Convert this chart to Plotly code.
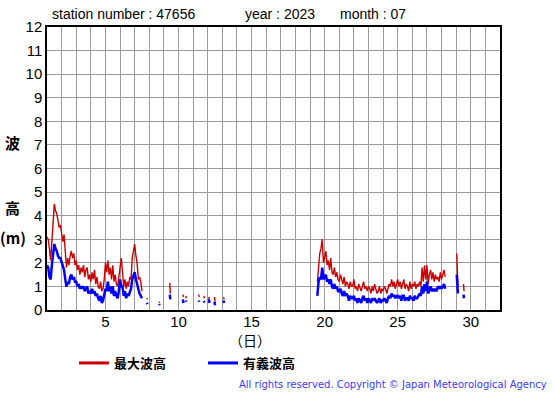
import plotly.graph_objects as go

# ---------------- data (wave heights, m) ----------------
STEP = 1.0 / 12.0  # 2-hourly samples, in days

# section A : July 1 00h .. July 7 12h
secA_start = 1.0
secA_max = [3.1, 3.0, 2.6, 2.1, 2.9, 3.8, 4.5, 4.2, 4.1, 3.8, 3.5, 3.6,
            3.3, 2.9, 3.2, 2.4, 1.8, 2.2, 1.9, 2.3, 2.5, 2.2, 2.4, 1.9,
            2.1, 1.7, 1.9, 1.5, 1.8, 1.6, 1.9, 1.4, 1.7, 1.8, 1.3, 1.5,
            1.2, 1.6, 1.3, 1.7, 1.1, 1.4, 1.0, 0.9, 1.2, 0.8, 0.9, 1.3,
            2.0, 1.6, 2.1, 1.5, 1.8, 1.3, 1.9, 1.2, 1.5, 1.1, 1.0, 1.4,
            1.8, 2.2, 1.6, 1.0, 1.3, 0.9, 1.2, 1.0, 1.4, 1.3, 2.2, 2.5,
            2.8, 2.3, 2.0, 1.3, 1.4, 1.2, 0.8]
secA_sig = [1.9, 1.8, 1.4, 1.3, 1.9, 2.4, 2.8, 2.6, 2.5, 2.3, 2.2, 2.2,
            2.0, 1.8, 1.7, 1.3, 1.0, 1.2, 1.1, 1.4, 1.5, 1.3, 1.4, 1.2,
            1.2, 1.0, 1.1, 0.9, 1.0, 0.9, 1.0, 0.8, 0.9, 1.0, 0.7, 0.8,
            0.7, 0.9, 0.7, 0.8, 0.6, 0.7, 0.5, 0.4, 0.6, 0.3, 0.4, 0.6,
            0.9, 0.8, 1.2, 0.8, 1.0, 0.7, 1.0, 0.6, 0.8, 0.6, 0.5, 0.8,
            1.3, 1.0, 1.0, 0.6, 0.8, 0.5, 0.7, 0.6, 0.8, 0.9, 1.3, 1.5,
            1.6, 1.3, 1.1, 0.8, 0.7, 0.6, 0.5]

# section B : July 19 12h .. July 28 06h
secB_start = 19.5
secB_max = [1.2, 2.0, 2.4, 2.6, 3.0, 2.0, 2.3, 2.5, 1.9, 2.1, 1.7, 2.2,
            1.6, 1.5, 1.8, 1.4, 1.6, 1.3, 1.2, 1.5, 1.3, 1.1, 1.4, 1.0,
            1.2, 1.1, 0.9, 1.2, 1.0, 1.0, 1.3, 0.9, 1.0, 0.8, 1.1, 0.9,
            0.8, 1.0, 1.2, 0.9, 1.0, 0.8, 1.0, 0.9, 0.7, 1.0, 0.8, 1.1,
            0.9, 0.7, 0.8, 1.0, 0.7, 0.9, 0.8, 1.0, 0.9, 0.7, 0.9, 1.1,
            1.0, 1.3, 1.0, 1.2, 0.9, 1.1, 1.3, 1.0, 1.2, 0.9, 1.1, 1.3,
            0.9, 1.1, 1.0, 0.8, 1.2, 0.9, 1.1, 1.0, 1.2, 0.9, 1.1, 1.0,
            1.2, 1.0, 1.8, 1.2, 1.9, 1.3, 1.9, 1.1, 1.5, 1.7, 1.3, 1.6,
            1.2, 1.5, 1.3, 1.4, 1.2, 1.6, 1.3, 1.5, 1.7, 1.4]
secB_sig = [0.6, 1.2, 1.4, 1.3, 1.8, 1.3, 1.4, 1.5, 1.2, 1.3, 1.1, 1.3,
            1.0, 0.9, 1.1, 0.9, 1.0, 0.8, 0.8, 0.9, 0.7, 0.6, 0.8, 0.6,
            0.7, 0.6, 0.4, 0.6, 0.5, 0.5, 0.6, 0.4, 0.5, 0.3, 0.5, 0.4,
            0.3, 0.5, 0.6, 0.4, 0.5, 0.3, 0.5, 0.4, 0.3, 0.5, 0.4, 0.5,
            0.4, 0.3, 0.4, 0.5, 0.3, 0.4, 0.4, 0.5, 0.4, 0.3, 0.5, 0.6,
            0.5, 0.7, 0.6, 0.6, 0.5, 0.6, 0.6, 0.5, 0.6, 0.4, 0.6, 0.6,
            0.4, 0.5, 0.5, 0.4, 0.6, 0.5, 0.5, 0.4, 0.6, 0.5, 0.5, 0.6,
            0.7, 0.6, 1.0, 0.7, 1.1, 0.8, 1.2, 0.7, 0.9, 1.0, 0.8, 0.9,
            0.8, 0.9, 0.8, 1.0, 0.9, 1.0, 0.9, 1.0, 1.1, 0.9]

# sparse observations (day, value); points sharing a group id are joined
sparse_day = [7.83, 7.875, 8.67, 8.71, 9.40, 9.44, 10.30, 10.34, 10.50, 10.54,
              11.38, 11.42, 11.73, 11.77, 12.08, 12.12, 12.46, 12.50, 13.08, 13.12,
              29.04, 29.08, 29.12, 29.50, 29.54]
sparse_grp = [0, 0, 1, 1, 2, 2, 3, 3, 4, 4,
              5, 5, 6, 6, 7, 7, 8, 8, 9, 9,
              10, 10, 10, 11, 11]
sparse_max = [0.50, 0.45, 0.35, 0.30, 1.15, 0.70, 0.65, 0.55, 0.60, 0.50,
              0.65, 0.55, 0.60, 0.50, 0.55, 0.35, 0.55, 0.35, 0.55, 0.45,
              2.40, 1.30, 1.00, 1.10, 0.80]
sparse_sig = [0.30, 0.25, 0.25, 0.20, 0.65, 0.45, 0.45, 0.30, 0.40, 0.35,
              0.40, 0.35, 0.38, 0.32, 0.45, 0.30, 0.35, 0.20, 0.40, 0.30,
              1.50, 1.00, 0.70, 0.65, 0.50]

y_ticks = list(range(0, 13))
x_ticks = [5, 10, 15, 20, 25, 30]

# ---------------- build series with gaps ----------------
def build(sections, sp_vals):
    xs, ys = [], []
    for start, vals in sections:
        for i, v in enumerate(vals):
            xs.append(start + i * STEP)
            ys.append(v)
        xs.append(None); ys.append(None)
    prev = None
    for d, g, v in zip(sparse_day, sparse_grp, sp_vals):
        if prev is not None and g != prev:
            xs.append(None); ys.append(None)
        xs.append(d); ys.append(v)
        prev = g
    return xs, ys

mx_x, mx_y = build([(secA_start, secA_max), (secB_start, secB_max)], sparse_max)
sg_x, sg_y = build([(secA_start, secA_sig), (secB_start, secB_sig)], sparse_sig)

RED = "#cc0000"
BLUE = "#0000ff"
FONT = "Liberation Sans, Arial, sans-serif"
CJK = "Noto Sans CJK JP, sans-serif"

fig = go.Figure()
fig.add_trace(go.Scatter(x=mx_x, y=mx_y, mode="lines", connectgaps=False,
                         line=dict(color=RED, width=1.4), showlegend=False,
                         hoverinfo="skip"))
fig.add_trace(go.Scatter(x=sg_x, y=sg_y, mode="lines", connectgaps=False,
                         line=dict(color=BLUE, width=2.5), showlegend=False,
                         hoverinfo="skip"))
# legend entries
fig.add_trace(go.Scatter(x=[None], y=[None], mode="lines", name="最大波高",
                         line=dict(color=RED, width=3)))
fig.add_trace(go.Scatter(x=[None], y=[None], mode="lines", name="有義波高",
                         line=dict(color=BLUE, width=3)))

L, R, T, B = 47, 55, 27, 85
W, H = 555, 395
PW, PH = W - L - R, H - T - B

def px(x):
    return (x - L) / PW

def py(y):
    return 1 - (y - T) / PH

grid = "#9a9a9a"
fig.update_layout(
    width=W, height=H,
    margin=dict(l=L, r=R, t=T, b=B, pad=0),
    paper_bgcolor="white", plot_bgcolor="white",
    font=dict(family=FONT, size=15, color="black"),
    xaxis=dict(range=[1, 32], tickvals=x_ticks, ticktext=[str(v) for v in x_ticks],
               showgrid=True, gridcolor=grid, gridwidth=1,
               minor=dict(dtick=1, tick0=0, showgrid=True, gridcolor=grid, gridwidth=1),
               showline=True, linecolor="black", linewidth=1.5, mirror=True,
               ticks="", zeroline=False, tickfont=dict(size=15),
               ticklabelstandoff=-3, automargin=False),
    yaxis=dict(range=[0, 12], tickvals=y_ticks, ticktext=[str(v) for v in y_ticks],
               showgrid=True, gridcolor=grid, gridwidth=1,
               showline=True, linecolor="black", linewidth=1.5, mirror=True,
               ticks="", zeroline=False, tickfont=dict(size=15), automargin=False),
    legend=dict(orientation="h", x=px(74), y=py(363), xanchor="left", yanchor="middle",
                xref="paper", yref="paper",
                entrywidth=84, entrywidthmode="pixels",
                font=dict(family=CJK, size=13, color="black", weight="bold"),
                bgcolor="rgba(0,0,0,0)"),
)

ann = [
    dict(text="station number : 47656", x=px(50), y=py(14), xanchor="left"),
    dict(text="year : 2023", x=px(243), y=py(14), xanchor="left"),
    dict(text="month : 07", x=px(338), y=py(14), xanchor="left"),
]
for a in ann:
    fig.add_annotation(xref="paper", yref="paper", yanchor="middle", showarrow=False,
                       font=dict(family=FONT, size=14, color="black"), **a)

for txt, xx, yy in [("波", 12, 142), ("高", 12, 207), ("(m)", 13, 237)]:
    fig.add_annotation(text=txt, xref="paper", yref="paper", x=px(xx), y=py(yy),
                       xanchor="center", yanchor="middle", showarrow=False,
                       font=dict(family=CJK, size=15, color="black", weight="bold"))

fig.add_annotation(text="（日）", xref="paper", yref="paper", x=px(250), y=py(340),
                   xanchor="center", yanchor="middle", showarrow=False,
                   font=dict(family=CJK, size=14, color="black"))

fig.add_annotation(text="All rights reserved. Copyright © Japan Meteorological Agency",
                   xref="paper", yref="paper", x=px(549), y=py(384),
                   xanchor="right", yanchor="middle", showarrow=False,
                   font=dict(family="DejaVu Sans, Verdana, sans-serif", size=10, color="#3a3aff"))

fig.write_html("out.html", config={"displayModeBar": False},
               post_script="document.body.style.margin='0';document.body.style.padding='0';")
